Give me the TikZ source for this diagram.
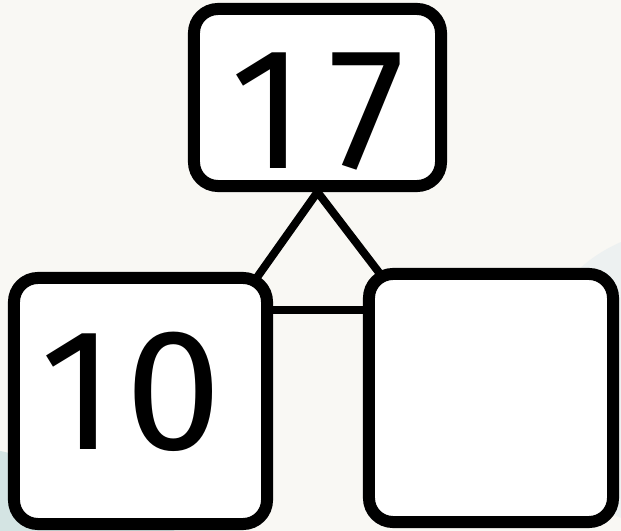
\documentclass[tikz,border=0pt]{standalone}
\usepackage{fontspec}
\setmainfont{Fira Sans}
\usetikzlibrary{positioning,calc}
\definecolor{paper}{HTML}{F9F8F4}
\definecolor{tealblob}{HTML}{D4E4E3}
\definecolor{greyblob}{HTML}{EDF1F1}
\pgfdeclarelayer{paperlayer}
\pgfdeclarelayer{links}
\pgfsetlayers{paperlayer,links,main}
\begin{document}
\begin{tikzpicture}[x=0.025cm,y=-0.025cm,
  box/.style={draw=black,fill=white,line width=0.3cm,rounded corners=0.6cm,inner sep=0pt},
  num/.style={inner sep=0pt,font=\fontsize{123}{123}\selectfont},
  link/.style={draw=black,line width=0.2cm}]
\begin{pgfonlayer}{paperlayer}
\fill[paper] (0,0) rectangle (621,531);
\begin{scope}
\clip (0,0) rectangle (621,531);
\fill[tealblob] (-100,900) circle (460);
\fill[greyblob] (680,380) circle (150);
\end{scope}
\end{pgfonlayer}
\useasboundingbox (0,0) rectangle (621,531);
\node[box,minimum width=6.175cm,minimum height=4.425cm] (top) at (317.5,97.5) {};
\node[box,minimum width=6.325cm,minimum height=6.15cm] (left) at (140.5,401) {};
\node[box,minimum width=6.1cm,minimum height=6.2cm] (right) at (491,398) {};
\node[num] (seventeen) at (318,112) {1\kern0.6cm7};
\node[num] (ten) at (131,392) {1\kern0.25cm0};
\coordinate (lk) at (241,300);
\coordinate (rk) at (400,300);
\coordinate (bar) at (0,310);
\begin{pgfonlayer}{links}
\draw[link] (lk) -- (top.south) -- (rk);
\draw[link] (left.east |- bar) -- (right.west |- bar);
\end{pgfonlayer}
\end{tikzpicture}
\end{document}
